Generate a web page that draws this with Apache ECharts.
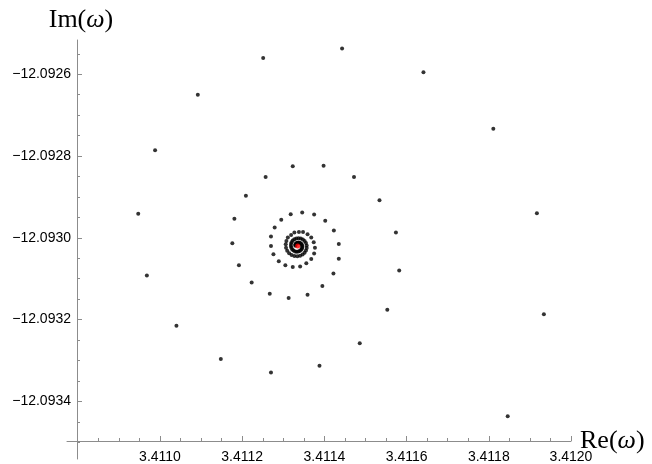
<!DOCTYPE html>
<html>
<head>
<meta charset="utf-8">
<script src="https://cdn.jsdelivr.net/npm/echarts@6/dist/echarts.min.js"></script>
<style>
html,body{margin:0;padding:0;background:#fff;}
#chart{width:652px;height:464px;}
</style>
</head>
<body>
<div id="chart"></div>
<script>
// Spiral points (Re, Im), outermost first
const re = [
3.411846,3.411934,3.411917,3.411811,3.411641,3.411443,3.411251,3.411092,3.410988,3.410947,
3.410968,3.411040,3.411148,3.411270,3.411388,3.411486,3.411553,3.411582,3.411574,3.411534,
3.411472,3.411398,3.411323,3.411257,3.411209,3.411181,3.411176,3.411192,3.411223,3.411267,
3.411313,3.411359,3.411395,3.411422,3.411435,3.411435,3.411423,3.411402,3.411375,3.411346,
3.411318,3.411295,3.411279,3.411270,3.411270,3.411276,3.411289,3.411305,3.411323,3.411341,
3.411356,3.411368,3.411375,3.411377,3.411374,3.411368,3.411359,3.411348,3.411338,3.411327,
3.411319,3.411311,
3.4113075,3.4113059,3.4113066,3.4113095,3.4113142,3.4113202,3.4113270,3.4113341,3.4113409,3.4113469,
3.4113518,3.4113551,3.4113569,3.4113569,3.4113551,3.4113519,3.4113476,3.4113425,3.4113370,3.4113317,
3.4113269,3.4113230,3.4113202,3.4113187,3.4113185,3.4113196,3.4113218,3.4113249,3.4113286,3.4113325,
3.4113364,3.4113399,3.4113428,3.4113449,3.4113460,3.4113462,3.4113455,3.4113440,3.4113420,3.4113396,
3.4113371,3.4113347,3.4113326,3.4113309,3.4113298,3.4113292,3.4113293
];
const im = [
-12.093436,-12.093187,-12.092940,-12.092733,-12.092595,-12.092537,-12.092560,-12.092650,-12.092786,-12.092941,
-12.093092,-12.093215,-12.093296,-12.093329,-12.093313,-12.093258,-12.093176,-12.093080,-12.092987,-12.092908,
-12.092851,-12.092824,-12.092825,-12.092851,-12.092897,-12.092953,-12.093013,-12.093067,-12.093109,-12.093137,
-12.093147,-12.093139,-12.093118,-12.093087,-12.093051,-12.093015,-12.092982,-12.092958,-12.092943,-12.092938,
-12.092942,-12.092956,-12.092975,-12.092997,-12.093020,-12.093040,-12.093057,-12.093067,-12.093071,-12.093070,
-12.093062,-12.093052,-12.093038,-12.093024,-12.093011,-12.092999,-12.092991,-12.092986,-12.092986,-12.092987,
-12.092993,-12.092999,
-12.0930077,-12.0930159,-12.0930240,-12.0930314,-12.0930375,-12.0930420,-12.0930445,-12.0930450,-12.0930436,-12.0930406,
-12.0930362,-12.0930307,-12.0930247,-12.0930185,-12.0930127,-12.0930077,-12.0930039,-12.0930016,-12.0930007,-12.0930013,
-12.0930034,-12.0930066,-12.0930107,-12.0930153,-12.0930200,-12.0930244,-12.0930283,-12.0930312,-12.0930331,-12.0930339,
-12.0930335,-12.0930321,-12.0930299,-12.0930272,-12.0930240,-12.0930208,-12.0930178,-12.0930152,-12.0930133,-12.0930120,
-12.0930116,-12.0930117,-12.0930126,-12.0930139,-12.0930156,-12.0930174,-12.0930192
];
// Limit point (red)
const centerRe = [3.411335];
const centerIm = [-12.093020];

// Axis ticks
const xTicks = [3.4110, 3.4112, 3.4114, 3.4116, 3.4118, 3.4120];
const yTicks = [-12.0934, -12.0932, -12.0930, -12.0928, -12.0926];

const spiral = re.map((v, i) => [v, im[i]]);
const center = centerRe.map((v, i) => [v, centerIm[i]]);

const axisGray = '#8c8c8c';
const fmt = v => v.toFixed(4).replace('-', '\u2212');

const chart = echarts.init(document.getElementById('chart'), null, {renderer: 'canvas'});
chart.setOption({
  animation: false,
  backgroundColor: '#ffffff',
  grid: {left: 67, right: 81, top: 40, bottom: 2, containLabel: false},
  xAxis: {
    type: 'value',
    min: 3.4107737,
    max: 3.4120,
    minInterval: 0.0002,
    maxInterval: 0.0002,
    offset: -18,
    name: 'Re({i|\u03c9})',
    nameLocation: 'end',
    nameGap: 9,
    nameMoveOverlap: false,
    nameTextStyle: {
      fontFamily: 'Liberation Serif', fontSize: 26, color: '#000', verticalAlign: 'middle', align: 'left',
      rich: {i: {fontFamily: 'Liberation Serif', fontSize: 26, fontStyle: 'italic', color: '#000'}}
    },
    axisLine: {show: true, onZero: false, lineStyle: {color: axisGray, width: 1}},
    axisTick: {show: true, inside: true, length: 5, customValues: xTicks, lineStyle: {color: axisGray}},
    minorTick: {show: true, splitNumber: 4, length: 3, lineStyle: {color: axisGray}},
    axisLabel: {
      show: true, customValues: xTicks, margin: 9, color: '#000',
      fontFamily: 'Liberation Sans', fontSize: 14, formatter: fmt
    },
    splitLine: {show: false},
    minorSplitLine: {show: false}
  },
  yAxis: {
    type: 'value',
    min: -12.0935408,
    max: -12.0925162,
    minInterval: 0.0002,
    maxInterval: 0.0002,
    offset: -10,
    name: 'Im({i|\u03c9})',
    nameLocation: 'end',
    nameGap: 7,
    nameMoveOverlap: false,
    nameTextStyle: {
      fontFamily: 'Liberation Serif', fontSize: 26, color: '#000', align: 'center',
      padding: [0, 0, 0, 8],
      rich: {i: {fontFamily: 'Liberation Serif', fontSize: 26, fontStyle: 'italic', color: '#000'}}
    },
    axisLine: {show: true, onZero: false, lineStyle: {color: axisGray, width: 1}},
    axisTick: {show: true, inside: true, length: 5, customValues: yTicks, lineStyle: {color: axisGray}},
    minorTick: {show: true, splitNumber: 4, length: 3, lineStyle: {color: axisGray}},
    axisLabel: {
      show: true, customValues: yTicks, margin: 6, color: '#000',
      fontFamily: 'Liberation Sans', fontSize: 14, formatter: fmt
    },
    splitLine: {show: false},
    minorSplitLine: {show: false}
  },
  series: [
    {
      type: 'scatter',
      data: spiral,
      symbol: 'circle',
      symbolSize: 4,
      itemStyle: {color: '#000000'},
      clip: false,
      silent: true
    },
    {
      type: 'scatter',
      data: center,
      symbol: 'circle',
      symbolSize: 5,
      itemStyle: {color: '#ff0000'},
      clip: false,
      silent: true,
      z: 5
    }
  ]
});
</script>
</body>
</html>
